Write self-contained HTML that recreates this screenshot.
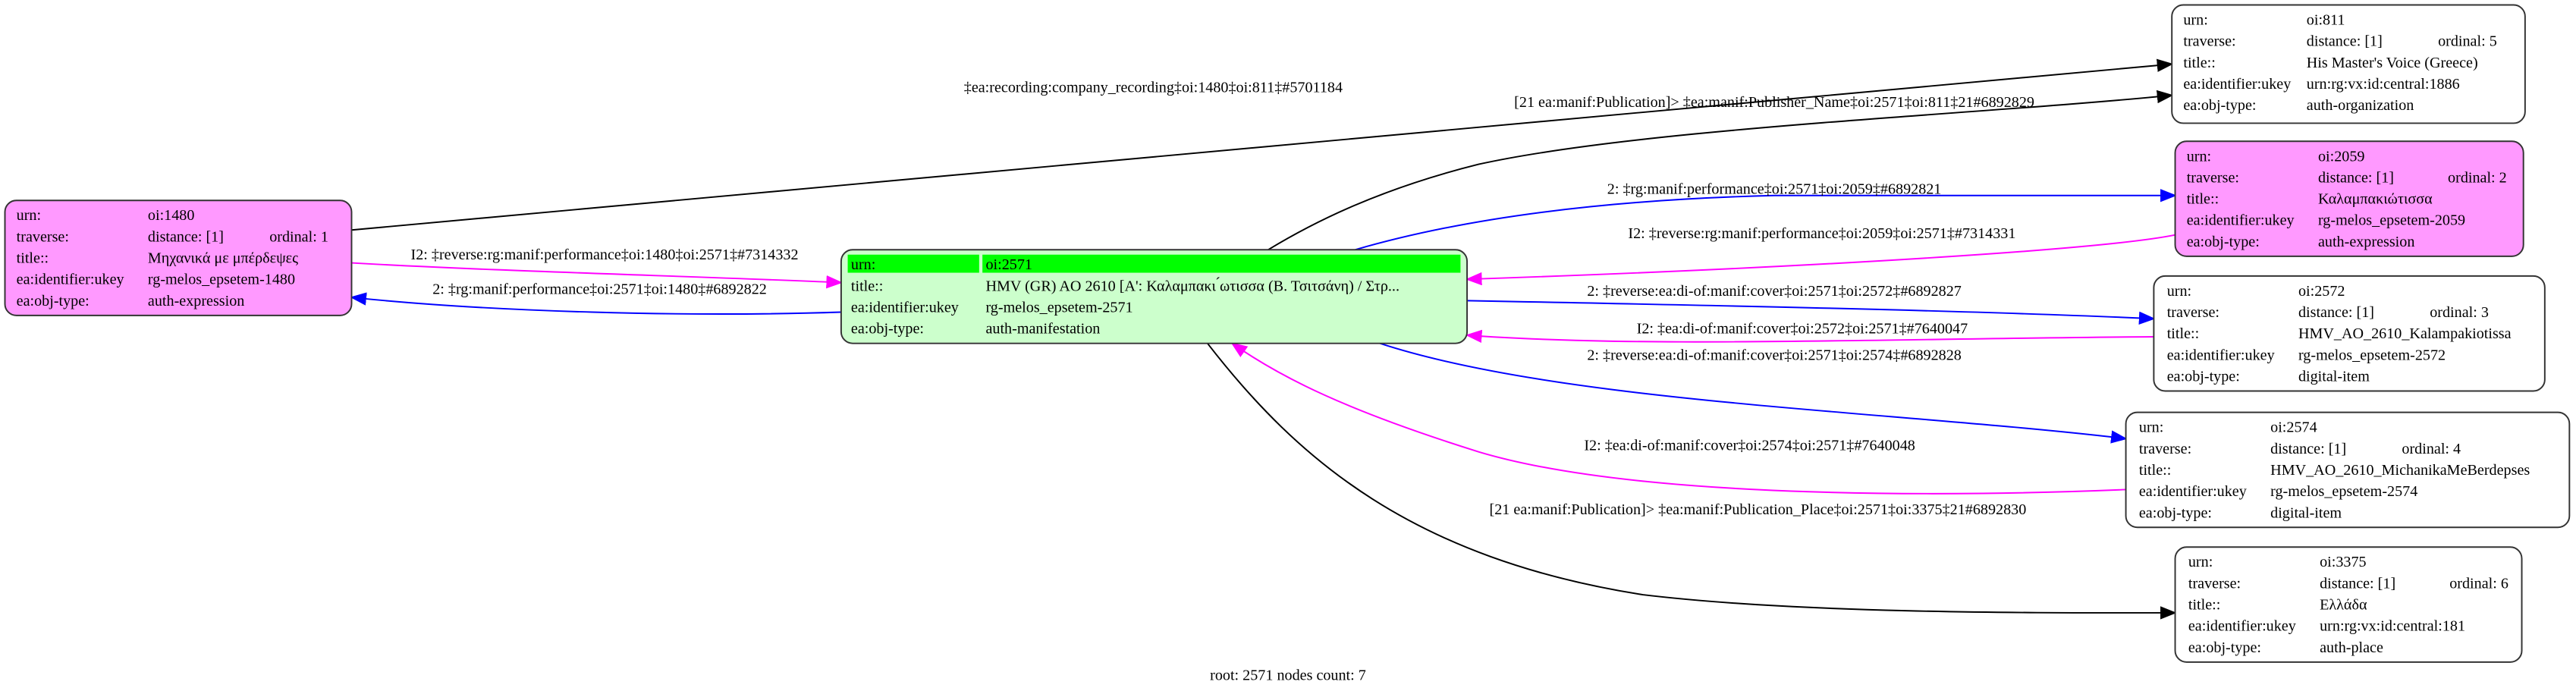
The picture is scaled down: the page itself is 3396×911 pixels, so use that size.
<!DOCTYPE html>
<html><head><meta charset="utf-8"><style>
html,body{margin:0;padding:0;background:#fff;width:3396px;height:911px;overflow:hidden}
svg{display:block}
text{font-family:"Liberation Serif","DejaVu Serif",serif;font-size:9.3px;fill:#000}
</style></head><body>
<svg width="3396" height="911" viewBox="0 0 1568 420.6" preserveAspectRatio="none" xmlns="http://www.w3.org/2000/svg">
<defs>
<marker id="ak" markerWidth="10" markerHeight="8" refX="9" refY="4" orient="auto" markerUnits="userSpaceOnUse"><path d="M0,0 L10,4 L0,8z" fill="#000"/></marker>
<marker id="ab" markerWidth="10" markerHeight="8" refX="9" refY="4" orient="auto" markerUnits="userSpaceOnUse"><path d="M0,0 L10,4 L0,8z" fill="#00f"/></marker>
<marker id="am" markerWidth="10" markerHeight="8" refX="9" refY="4" orient="auto" markerUnits="userSpaceOnUse"><path d="M0,0 L10,4 L0,8z" fill="#f0f"/></marker>
</defs>
<g fill="none" stroke-width="0.9">
<path d="M214,140 L1322,39" stroke="#000" marker-end="url(#ak)"/>
<path d="M772,152 C800,135 840,115 900,100 C1000,78 1200,70 1322,58" stroke="#000" marker-end="url(#ak)"/>
<path d="M825,152 C880,136 960,122 1080,119 L1324,119" stroke="#00f" marker-end="url(#ab)"/>
<path d="M1324,143 C1280,152 1100,163 893,170" stroke="#f0f" marker-end="url(#am)"/>
<path d="M893,183 C1050,186 1200,189 1311,194" stroke="#00f" marker-end="url(#ab)"/>
<path d="M1311,205 C1150,206 1000,212 893,204" stroke="#f0f" marker-end="url(#am)"/>
<path d="M840,209 C950,245 1150,250 1294,267" stroke="#00f" marker-end="url(#ab)"/>
<path d="M1294,298 C1200,302 1000,305 900,275 C820,250 780,230 750,209" stroke="#f0f" marker-end="url(#am)"/>
<path d="M735,209 C790,280 860,340 1000,362 C1100,374 1250,373 1324,373" stroke="#000" marker-end="url(#ak)"/>
<path d="M214,160 C300,165 420,168 512,172" stroke="#f0f" marker-end="url(#am)"/>
<path d="M512,190 C420,193 300,190 214,181" stroke="#00f" marker-end="url(#ab)"/>
</g>
<g text-anchor="middle">
<text x="702" y="56">‡ea:recording:company_recording‡oi:1480‡oi:811‡#5701184</text>
<text x="1080" y="65">[21 ea:manif:Publication]&gt; ‡ea:manif:Publisher_Name‡oi:2571‡oi:811‡21#6892829</text>
<text x="1080" y="118">2: ‡rg:manif:performance‡oi:2571‡oi:2059‡#6892821</text>
<text x="1109" y="145">I2: ‡reverse:rg:manif:performance‡oi:2059‡oi:2571‡#7314331</text>
<text x="1080" y="180">2: ‡reverse:ea:di-of:manif:cover‡oi:2571‡oi:2572‡#6892827</text>
<text x="1097" y="203">I2: ‡ea:di-of:manif:cover‡oi:2572‡oi:2571‡#7640047</text>
<text x="1080" y="219">2: ‡reverse:ea:di-of:manif:cover‡oi:2571‡oi:2574‡#6892828</text>
<text x="1065" y="274">I2: ‡ea:di-of:manif:cover‡oi:2574‡oi:2571‡#7640048</text>
<text x="1070" y="313">[21 ea:manif:Publication]&gt; ‡ea:manif:Publication_Place‡oi:2571‡oi:3375‡21#6892830</text>
<text x="368" y="158">I2: ‡reverse:rg:manif:performance‡oi:1480‡oi:2571‡#7314332</text>
<text x="365" y="179">2: ‡rg:manif:performance‡oi:2571‡oi:1480‡#6892822</text>
<text x="784" y="414">root: 2571 nodes count: 7</text>
</g>
<rect x="3" y="122" width="211" height="70" rx="7" fill="#ff99ff" stroke="#333" stroke-width="0.9"/>
<g><text x="10" y="134">urn:</text><text x="90" y="134">oi:1480</text>
<text x="10" y="147">traverse:</text><text x="90" y="147">distance: [1]</text><text x="164" y="147">ordinal: 1</text>
<text x="10" y="160">title::</text><text x="90" y="160">Μηχανικά με μπέρδεψες</text>
<text x="10" y="173">ea:identifier:ukey</text><text x="90" y="173">rg-melos_epsetem-1480</text>
<text x="10" y="186">ea:obj-type:</text><text x="90" y="186">auth-expression</text></g>
<rect x="512" y="152" width="381" height="57" rx="7" fill="#ccffcc" stroke="#333" stroke-width="0.9"/>
<rect x="516" y="155" width="80" height="11" fill="#00ff00"/><rect x="598" y="155" width="291" height="11" fill="#00ff00"/>
<g><text x="518" y="164">urn:</text><text x="600" y="164">oi:2571</text>
<text x="518" y="177">title::</text><text x="600" y="177">HMV (GR) AO 2610 [A': Καλαμπακι ́ωτισσα (Β. Τσιτσάνη) / Στρ...</text>
<text x="518" y="190">ea:identifier:ukey</text><text x="600" y="190">rg-melos_epsetem-2571</text>
<text x="518" y="203">ea:obj-type:</text><text x="600" y="203">auth-manifestation</text></g>
<rect x="1322" y="3" width="215" height="72" rx="7" fill="#fff" stroke="#333" stroke-width="0.9"/>
<g><text x="1329" y="15">urn:</text><text x="1404" y="15">oi:811</text>
<text x="1329" y="28">traverse:</text><text x="1404" y="28">distance: [1]</text><text x="1484" y="28">ordinal: 5</text>
<text x="1329" y="41">title::</text><text x="1404" y="41">His Master's Voice (Greece)</text>
<text x="1329" y="54">ea:identifier:ukey</text><text x="1404" y="54">urn:rg:vx:id:central:1886</text>
<text x="1329" y="67">ea:obj-type:</text><text x="1404" y="67">auth-organization</text></g>
<rect x="1324" y="86" width="212" height="70" rx="7" fill="#ff99ff" stroke="#333" stroke-width="0.9"/>
<g><text x="1331" y="98">urn:</text><text x="1411" y="98">oi:2059</text>
<text x="1331" y="111">traverse:</text><text x="1411" y="111">distance: [1]</text><text x="1490" y="111">ordinal: 2</text>
<text x="1331" y="124">title::</text><text x="1411" y="124">Καλαμπακιώτισσα</text>
<text x="1331" y="137">ea:identifier:ukey</text><text x="1411" y="137">rg-melos_epsetem-2059</text>
<text x="1331" y="150">ea:obj-type:</text><text x="1411" y="150">auth-expression</text></g>
<rect x="1311" y="168" width="238" height="70" rx="7" fill="#fff" stroke="#333" stroke-width="0.9"/>
<g><text x="1319" y="180">urn:</text><text x="1399" y="180">oi:2572</text>
<text x="1319" y="193">traverse:</text><text x="1399" y="193">distance: [1]</text><text x="1479" y="193">ordinal: 3</text>
<text x="1319" y="206">title::</text><text x="1399" y="206">HMV_AO_2610_Kalampakiotissa</text>
<text x="1319" y="219">ea:identifier:ukey</text><text x="1399" y="219">rg-melos_epsetem-2572</text>
<text x="1319" y="232">ea:obj-type:</text><text x="1399" y="232">digital-item</text></g>
<rect x="1294" y="251" width="270" height="70" rx="7" fill="#fff" stroke="#333" stroke-width="0.9"/>
<g><text x="1302" y="263">urn:</text><text x="1382" y="263">oi:2574</text>
<text x="1302" y="276">traverse:</text><text x="1382" y="276">distance: [1]</text><text x="1462" y="276">ordinal: 4</text>
<text x="1302" y="289">title::</text><text x="1382" y="289">HMV_AO_2610_MichanikaMeBerdepses</text>
<text x="1302" y="302">ea:identifier:ukey</text><text x="1382" y="302">rg-melos_epsetem-2574</text>
<text x="1302" y="315">ea:obj-type:</text><text x="1382" y="315">digital-item</text></g>
<rect x="1324" y="333" width="211" height="70" rx="7" fill="#fff" stroke="#333" stroke-width="0.9"/>
<g><text x="1332" y="345">urn:</text><text x="1412" y="345">oi:3375</text>
<text x="1332" y="358">traverse:</text><text x="1412" y="358">distance: [1]</text><text x="1491" y="358">ordinal: 6</text>
<text x="1332" y="371">title::</text><text x="1412" y="371">Ελλάδα</text>
<text x="1332" y="384">ea:identifier:ukey</text><text x="1412" y="384">urn:rg:vx:id:central:181</text>
<text x="1332" y="397">ea:obj-type:</text><text x="1412" y="397">auth-place</text></g>
</svg>
</body></html>
